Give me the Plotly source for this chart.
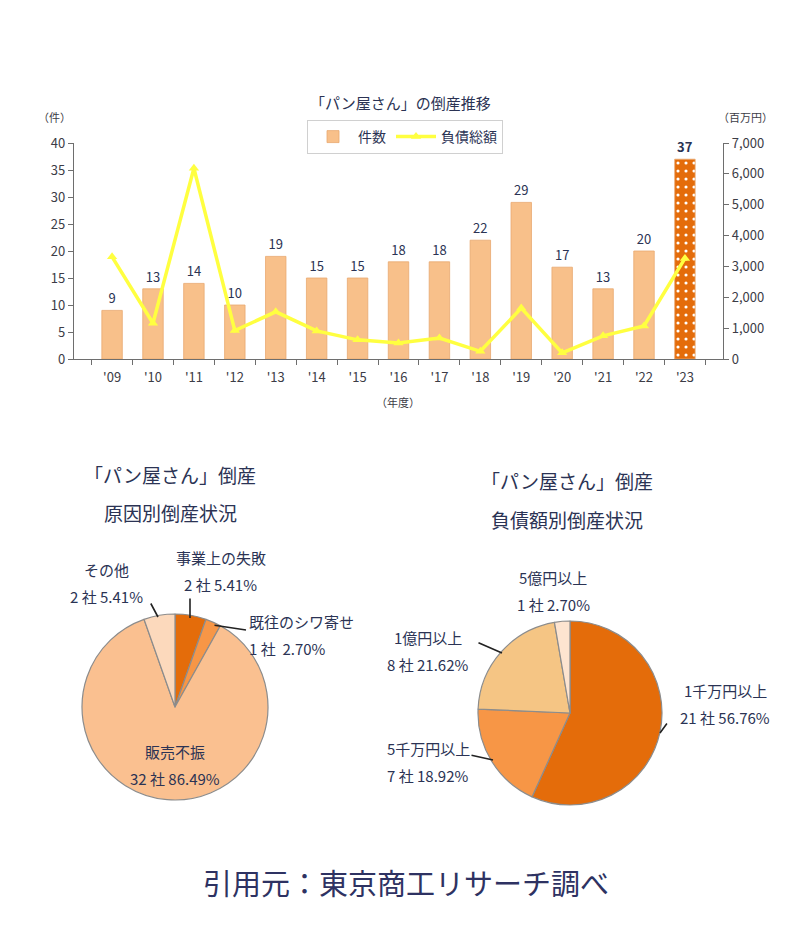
import plotly.graph_objects as go

# ---------------- data ----------------
years = ["'09", "'10", "'11", "'12", "'13", "'14", "'15", "'16", "'17", "'18",
         "'19", "'20", "'21", "'22", "'23"]
cases = [9, 13, 14, 10, 19, 15, 15, 18, 18, 22, 29, 17, 13, 20, 37]
debt = [3310, 1160, 6180, 920, 1530, 910, 620, 520, 680, 250, 1650, 200, 750, 1070, 3260]

cause_labels = ["事業上の失敗", "既往のシワ寄せ", "販売不振", "その他"]
cause_counts = [2, 1, 32, 2]
cause_pcts = ["5.41%", "2.70%", "86.49%", "5.41%"]

debt_labels = ["1千万円以上", "5千万円以上", "1億円以上", "5億円以上"]
debt_counts = [21, 7, 8, 1]
debt_pcts = ["56.76%", "18.92%", "21.62%", "2.70%"]

W, H = 812, 942
FONT = "Noto Sans CJK JP"
NAVY = "#2B3354"
TICK = "#3C3C46"


def px(x):
    return x / W


def py(y):
    return 1 - y / H


fig = go.Figure()

n = len(years)
bar_bg = ["#F8C08A"] * (n - 1) + ["#E46C0A"]
bar_text = [str(v) for v in cases[:-1]] + ["<b>%d</b>" % cases[-1]]
fig.add_trace(go.Bar(
    x=years, y=cases, name="件数", width=0.5,
    marker=dict(color="#F8C08A", line=dict(color="#E8A870", width=0.8),
                pattern=dict(shape=[""] * (n - 1) + ["."],
                             fillmode="replace", bgcolor=bar_bg,
                             fgcolor="#FFFFFF", fgopacity=1,
                             size=8, solidity=0.12)),
    text=bar_text, textposition="outside", cliponaxis=False,
    textfont=dict(size=13, color=NAVY, family=FONT),
    xaxis="x", yaxis="y",
))
fig.add_trace(go.Scatter(
    x=years, y=debt, name="負債総額", mode="lines+markers",
    line=dict(color="#FFFF40", width=3.5),
    marker=dict(symbol="triangle-up", size=9, color="#FFFF40"),
    xaxis="x", yaxis="y2",
))

fig.add_trace(go.Pie(
    labels=cause_labels, values=cause_counts, sort=False, direction="clockwise",
    rotation=0, textinfo="none", hoverinfo="label+value+percent",
    marker=dict(colors=["#E46C0A", "#F79646", "#FAC090", "#FCD9BC"],
                line=dict(color="#8C8C8C", width=1.2)),
    domain=dict(x=[px(82), px(268)], y=[py(800), py(614)]),
    showlegend=False,
))
fig.add_trace(go.Pie(
    labels=debt_labels, values=debt_counts, sort=False, direction="clockwise",
    rotation=0, textinfo="none", hoverinfo="label+value+percent",
    marker=dict(colors=["#E46C0A", "#F79646", "#F5C584", "#FDE4D0"],
                line=dict(color="#8C8C8C", width=1.2)),
    domain=dict(x=[px(478), px(662)], y=[py(805), py(621)]),
    showlegend=False,
))

annotations = []


def text_ann(x, y, text, size, color=NAVY, xanchor="center"):
    annotations.append(dict(x=px(x), y=py(y), xref="paper", yref="paper",
                            text=text, showarrow=False, xanchor=xanchor,
                            yanchor="middle",
                            font=dict(size=size, color=color, family=FONT)))


def leader(x0, y0, x1, y1):
    annotations.append(dict(x=px(x1), y=py(y1), xref="paper", yref="paper",
                            ax=x0 - x1, ay=y0 - y1, axref="pixel", ayref="pixel",
                            text="", showarrow=True, arrowhead=0, standoff=0,
                            startstandoff=0,
                            arrowwidth=1.6, arrowcolor="#222222"))


def pie_label(x, y, i, labels, counts, pcts, sep=" ", xanchor="center"):
    text_ann(x, y, labels[i], 15, xanchor=xanchor)
    text_ann(x, y + 27, "%d 社%s%s" % (counts[i], sep, pcts[i]), 15, xanchor=xanchor)


# top chart texts
text_ann(400, 103, "「パン屋さん」の倒産推移", 15)
text_ann(54, 117, "（件）", 11, TICK)
text_ann(745, 117, "（百万円）", 11, TICK)
text_ann(398, 402, "（年度）", 11, TICK)

# pie titles
text_ann(170, 474, "「パン屋さん」倒産", 19)
text_ann(170, 512, "原因別倒産状況", 19)
text_ann(567, 480, "「パン屋さん」倒産", 19)
text_ann(567, 519, "負債額別倒産状況", 19)

# pie 1 labels
pie_label(221, 557, 0, cause_labels, cause_counts, cause_pcts)
leader(190, 597, 190, 618)
pie_label(247, 621, 1, cause_labels, cause_counts, cause_pcts, "  ", xanchor="left")
leader(213, 625, 246, 630)
pie_label(175, 751, 2, cause_labels, cause_counts, cause_pcts)
pie_label(106, 569, 3, cause_labels, cause_counts, cause_pcts)
leader(150, 602, 158, 617)

# pie 2 labels
pie_label(725, 690, 0, debt_labels, debt_counts, debt_pcts)
leader(668, 722, 660, 733)
pie_label(428, 748, 1, debt_labels, debt_counts, debt_pcts)
leader(470, 755, 493, 760)
pie_label(428, 637, 2, debt_labels, debt_counts, debt_pcts)
leader(477, 642, 502, 653)
pie_label(553, 577, 3, debt_labels, debt_counts, debt_pcts)

# footer
text_ann(406, 882, "引用元：東京商工リサーチ調べ", 29, "#2E3262")

axis_common = dict(showline=True, linecolor="#6E6E6E", linewidth=1.2,
                   ticks="outside", tickcolor="#6E6E6E", ticklen=5,
                   showgrid=False, zeroline=False, automargin=False,
                   tickfont=dict(size=13, color=TICK, family=FONT))

fig.update_layout(
    width=W, height=H,
    margin=dict(l=0, r=0, t=0, b=0, pad=0, autoexpand=False),
    paper_bgcolor="white", plot_bgcolor="white",
    font=dict(family=FONT, color=NAVY),
    bargap=0.5,
    xaxis=dict(domain=[px(74), px(723)], anchor="y", type="category",
               tickson="boundaries", ticklabelstandoff=6, **axis_common),
    yaxis=dict(domain=[py(359), py(143)], range=[0, 40], dtick=5,
               anchor="x", **axis_common),
    yaxis2=dict(range=[0, 7000], dtick=1000, tickformat=",", overlaying="y",
                side="right", anchor="x", **axis_common),
    legend=dict(orientation="h", x=px(405), y=py(137), xanchor="center",
                yanchor="middle", bordercolor="#D0D0D0", borderwidth=1,
                bgcolor="white", font=dict(size=14, color=NAVY, family=FONT),
                itemwidth=40),
    annotations=annotations,
)

fig.write_html("out.html", config={"displayModeBar": False},
               post_script="document.body.style.margin='0';document.body.style.padding='0';")
